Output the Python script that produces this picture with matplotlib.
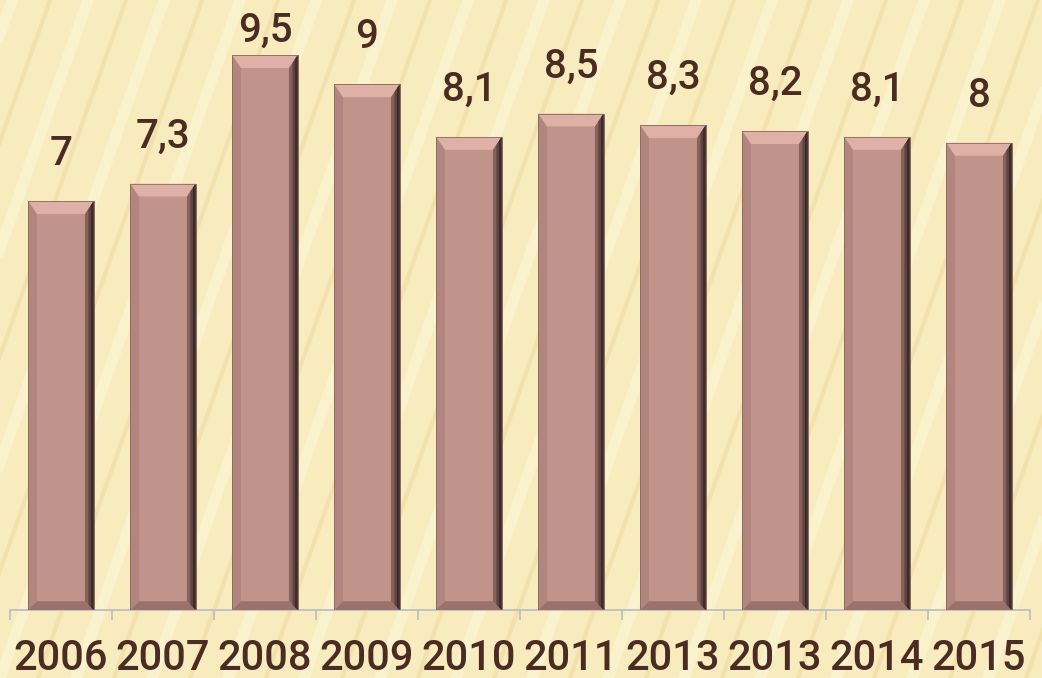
import matplotlib.pyplot as plt
from matplotlib.patches import Polygon
from matplotlib.lines import Line2D
from matplotlib.ticker import FixedLocator

# ---- data ----
years = ["2006", "2007", "2008", "2009", "2010", "2011", "2013", "2013", "2014", "2015"]
values = [7, 7.3, 9.5, 9, 8.1, 8.5, 8.3, 8.2, 8.1, 8]

FACE = "#c0948a"
TEXT = "#4b2c22"
GRID = "#bfbfbf"
FONT = "Roboto"

fig = plt.figure(figsize=(10.42, 6.78), dpi=100)
fig.patch.set_facecolor("#f8ebbe")

# diagonal stripes of the slide background
for k in range(-12, 40):
    x0 = k * 38
    light = k % 2 == 0
    fig.add_artist(Line2D([x0 / 100, (x0 + 240) / 100], [0, 6.78],
                          transform=fig.dpi_scale_trans,
                          color="#fcf4d4" if light else "#f0dea6",
                          lw=8 if light else 3, alpha=0.7, zorder=0))

ax = fig.add_axes([10 / 1042, 68 / 678, 1020 / 1042, 584 / 678])
ax.set_facecolor("none")

x = list(range(len(years)))
bars = ax.bar(x, values, width=0.64, color=FACE, edgecolor="#8a6a60",
              linewidth=0.6, zorder=2)


def bevel(ax, bar):
    bx, w, h = bar.get_x(), bar.get_width(), bar.get_height()
    dx, dyt, dyb = 0.085, 0.22, 0.15
    parts = [
        ([(bx, 0), (bx, h), (bx + dx, h - dyt), (bx + dx, dyb)], "#b2867e"),
        ([(bx, h), (bx + w, h), (bx + w - dx, h - dyt), (bx + dx, h - dyt)], "#dfb0a6"),
        ([(bx, 0), (bx + w, 0), (bx + w - dx, dyb), (bx + dx, dyb)], "#9a726b"),
        ([(bx + w, h), (bx + w, 0), (bx + w - dx, dyb), (bx + w - dx, h - dyt)], "#86625b"),
        ([(bx + w, h), (bx + w, 0), (bx + w - dx * 0.6, dyb * 0.6),
          (bx + w - dx * 0.6, h - dyt * 0.6)], "#5e4440"),
        ([(bx + w, h), (bx + w, 0), (bx + w - dx * 0.3, dyb * 0.3),
          (bx + w - dx * 0.3, h - dyt * 0.3)], "#3e2c2a"),
    ]
    for pts, c in parts:
        ax.add_patch(Polygon(pts, closed=True, facecolor=c, edgecolor="none", zorder=3))
    ax.add_patch(Polygon([(bx, 0), (bx, h), (bx + w, h), (bx + w, 0)], closed=True,
                         facecolor="none", edgecolor="#8a6a60", lw=0.6, zorder=4))


for b in bars:
    bevel(ax, b)

# value labels (kept inside the plot area like the original)
for xi, v in zip(x, values):
    txt = f"{v:g}".replace(".", ",")
    ax.text(xi, min(v + 0.62, 9.73), txt, ha="center", va="baseline",
            fontsize=29, color=TEXT, family=FONT, fontweight="medium", zorder=5)

ax.set_xlim(-0.5, len(years) - 0.5)
ax.set_ylim(0, 10)

for s in ["top", "right", "left"]:
    ax.spines[s].set_visible(False)
ax.spines["bottom"].set_color(GRID)
ax.spines["bottom"].set_linewidth(1.3)
ax.set_yticks([])

ax.set_xticks(x)
ax.set_xticklabels(years, fontsize=30, color=TEXT, family=FONT, fontweight="medium")
ax.xaxis.set_minor_locator(FixedLocator([i - 0.5 for i in range(len(years) + 1)]))
ax.tick_params(axis="x", which="major", length=0, pad=20)
ax.tick_params(axis="x", which="minor", length=7.5, width=1.3, color=GRID)

fig.savefig("out.png", dpi=100, facecolor=fig.get_facecolor())
